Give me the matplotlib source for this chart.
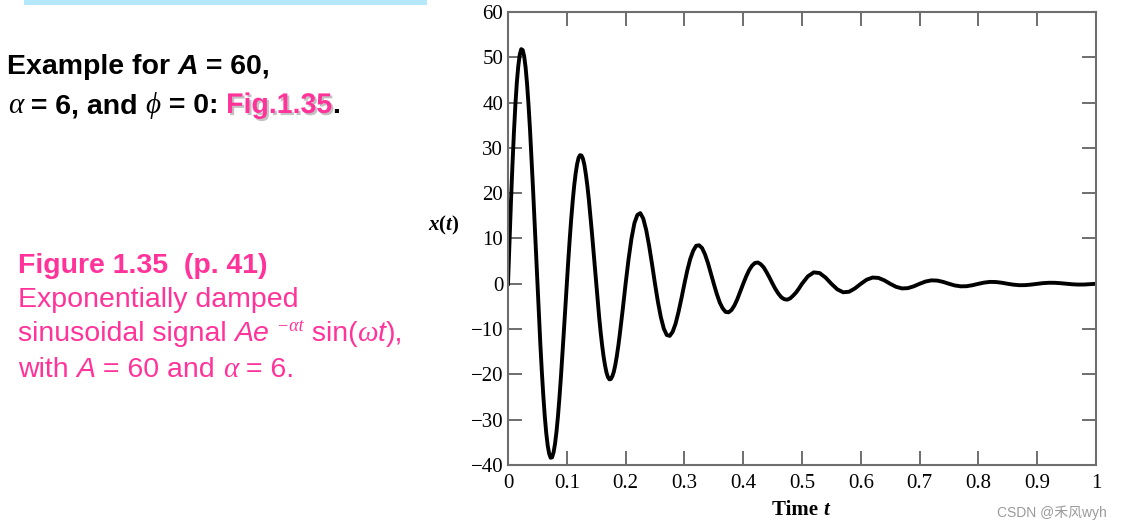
import matplotlib
matplotlib.use("Agg")
import matplotlib.pyplot as plt
import matplotlib.patheffects as pe
import numpy as np

PINK = "#ff3399"
INK = "black"
SPINE = "#6e6e6e"
SANS = ["Liberation Sans", "DejaVu Sans"]
SERIF = ["Liberation Serif", "DejaVu Serif"]

# ---- data: x(t) -----------------------------------------------------------
t_fine = np.linspace(0.0, 0.1975, 80)
x_fine = [0, 9.2, 18.0, 26.0, 33.2, 39.4, 44.4, 48.1, 50.6, 51.8,
          51.6, 50.2, 47.7, 44.0, 39.3, 33.9, 27.7, 21.1, 14.2, 7.1,
          0, -6.8, -13.3, -19.3, -24.6, -29.2, -32.9, -35.7, -37.5, -38.4,
          -38.3, -37.2, -35.3, -32.6, -29.2, -25.1, -20.6, -15.6, -10.5, -5.2,
          0, 5.1, 9.9, 14.3, 18.2, 21.6, 24.3, 26.4, 27.8, 28.4,
          28.3, 27.6, 26.2, 24.1, 21.6, 18.6, 15.2, 11.6, 7.8, 3.9,
          0, -3.8, -7.3, -10.6, -13.5, -16.0, -18.0, -19.6, -20.6, -21.1,
          -21.0, -20.4, -19.4, -17.9, -16.0, -13.8, -11.3, -8.6, -5.8, -2.9]

t_mid = np.linspace(0.2, 0.495, 60)
x_mid = [0, 5.4, 10.0, 13.4, 15.2, 15.6, 14.4, 11.9, 8.4, 4.3,
         0, -4.0, -7.4, -9.9, -11.3, -11.5, -10.6, -8.8, -6.2, -3.2,
         0, 3.0, 5.5, 7.3, 8.4, 8.5, 7.9, 6.5, 4.6, 2.3,
         0, -2.2, -4.1, -5.4, -6.2, -6.3, -5.8, -4.8, -3.4, -1.7,
         0, 1.6, 3.0, 4.0, 4.6, 4.7, 4.3, 3.6, 2.5, 1.3,
         0, -1.2, -2.2, -3.0, -3.4, -3.5, -3.2, -2.6, -1.9, -1.0]

t_tail = np.linspace(0.5, 1.0, 51)
x_tail = [0, 1.65, 2.52, 2.37, 1.38, 0, -1.22, -1.87, -1.76, -1.02,
          0, 0.91, 1.38, 1.30, 0.76, 0, -0.67, -1.02, -0.96, -0.56,
          0, 0.50, 0.76, 0.71, 0.42, 0, -0.37, -0.56, -0.53, -0.31,
          0, 0.27, 0.42, 0.39, 0.23, 0, -0.20, -0.31, -0.29, -0.17,
          0, 0.15, 0.23, 0.22, 0.13, 0, -0.11, -0.17, -0.16, -0.09,
          0]

x_ticks = [0, 0.1, 0.2, 0.3, 0.4, 0.5, 0.6, 0.7, 0.8, 0.9, 1.0]
x_ticklabels = ["0", "0.1", "0.2", "0.3", "0.4", "0.5", "0.6", "0.7", "0.8", "0.9", "1"]
y_ticks = [-40, -30, -20, -10, 0, 10, 20, 30, 40, 50, 60]

W, H = 1122, 529


def runs(ax, x, y, pieces, renderer):
    """Draw text pieces one after another on a baseline, pixel coordinates."""
    for s, kw in pieces:
        kw = dict(kw)
        dy = kw.pop("dy", 0)
        t = ax.text(x, y - dy, s, ha="left", va="baseline", **kw)
        x += t.get_window_extent(renderer).width
    return x


def main():
    fig = plt.figure(figsize=(W / 100, H / 100), dpi=100)
    fig.patch.set_facecolor("white")
    renderer = fig.canvas.get_renderer()

    # overlay canvas in pixel units for the slide text
    bg = fig.add_axes([0, 0, 1, 1], zorder=0)
    bg.set_xlim(0, W); bg.set_ylim(H, 0); bg.axis("off")
    bg.add_patch(plt.Rectangle((24, -2), 403, 7, color="#b5e8fb", lw=0))

    # ---- the chart -----------------------------------------------------------
    ax = fig.add_axes([508 / W, 1 - 465 / H, (1096 - 508) / W, (465 - 12) / H], zorder=1)
    ax.set_facecolor("none")
    ax.plot(np.concatenate([t_fine, t_mid, t_tail]), np.concatenate([x_fine, x_mid, x_tail]),
            color="black", lw=2.8, solid_joinstyle="round")
    ax.set_xlim(0, 1); ax.set_ylim(-40, 60)
    ax.set_xticks(x_ticks); ax.set_xticklabels(x_ticklabels)
    ax.set_yticks(y_ticks)
    ax.tick_params(direction="in", length=10, width=1.4, color=SPINE, top=True, right=True,
                   labelsize=15, pad=3.5)
    ax.tick_params(axis="x", pad=6.5)
    for lab in ax.get_xticklabels() + ax.get_yticklabels():
        lab.set_family(SERIF)
    for sp in ax.spines.values():
        sp.set_color(SPINE); sp.set_linewidth(1.5)

    ser = dict(family=SERIF, fontsize=15, color=INK, fontweight="bold")
    runs(bg, 428, 230, [("x", dict(ser, style="italic")), ("(", ser),
                        ("t", dict(ser, style="italic")), (")", ser)], renderer)
    runs(bg, 772, 515, [("Time ", ser), ("t", dict(ser, style="italic"))], renderer)

    # ---- slide text ----------------------------------------------------------
    b = dict(family=SANS, fontsize=20.5, color=INK, fontweight="bold")
    g = dict(family=SERIF, fontsize=21, color=INK, style="italic")
    runs(bg, 7, 74, [("Example for ", b), ("A", dict(b, style="italic")), (" = 60,", b)], renderer)
    shadow = [pe.withSimplePatchShadow(offset=(1.5, -1.5), shadow_rgbFace="#9a9a9a", alpha=0.6)]
    runs(bg, 8, 113, [("α", g), (" = 6, and ", b), ("ϕ", g), (" = 0: ", b),
                      ("Fig.1.35", dict(b, color=PINK, path_effects=shadow)), (".", b)], renderer)

    p = dict(family=SANS, fontsize=20.5, color=PINK)
    pi = dict(p, style="italic")
    pg = dict(family=SERIF, fontsize=21, color=PINK, style="italic")
    runs(bg, 18, 273, [("Figure 1.35  (p. 41)", dict(p, fontweight="bold"))], renderer)
    runs(bg, 18, 307, [("Exponentially damped", p)], renderer)
    runs(bg, 18, 341, [("sinusoidal signal ", p), ("Ae ", pi),
                       ("−αt", dict(pg, fontsize=13, dy=10)), (" sin(", p),
                       ("ω", pg), ("t", pi), ("),", p)], renderer)
    runs(bg, 18, 377, [("with ", p), ("A", pi), (" = 60 and ", p), ("α", pg), (" = 6.", p)], renderer)

    bg.text(1107, 517, "CSDN @禾风wyh", ha="right", va="baseline", fontsize=10, color="#9a9a9a",
            family=["Liberation Sans", "Noto Sans CJK SC"])

    fig.savefig("out.png", dpi=100)
    plt.close(fig)


if __name__ == "__main__":
    main()
